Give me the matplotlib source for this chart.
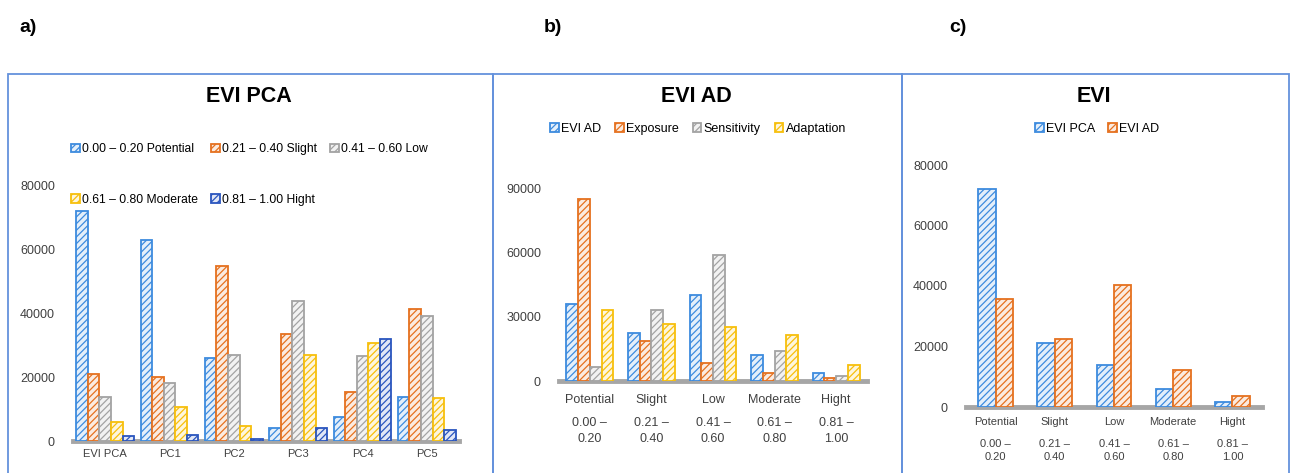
import matplotlib.pyplot as plt
import numpy as np
from matplotlib.patches import Rectangle

plt.rcParams['font.family'] = ['Liberation Sans', 'DejaVu Sans']
plt.rcParams['hatch.linewidth'] = 0.9

# ---------------- data ----------------
pca_groups = ["EVI PCA", "PC1", "PC2", "PC3", "PC4", "PC5"]
pca_series = ["0.00 – 0.20 Potential", "0.21 – 0.40 Slight", "0.41 – 0.60 Low",
              "0.61 – 0.80 Moderate", "0.81 – 1.00 Hight"]
pca_potential = [72000, 63000, 26000, 4100, 7600, 13900]
pca_slight = [21000, 20200, 55000, 33600, 15500, 41400]
pca_low = [13900, 18300, 27000, 44000, 26700, 39300]
pca_moderate = [5900, 10600, 4800, 27000, 30600, 13600]
pca_high = [1700, 1900, 600, 4100, 31900, 3400]

classes = ["Potential", "Slight", "Low", "Moderate", "Hight"]
ranges = ["0.00 –\n0.20", "0.21 –\n0.40", "0.41 –\n0.60", "0.61 –\n0.80", "0.81 –\n1.00"]

ad_series = ["EVI AD", "Exposure", "Sensitivity", "Adaptation"]
ad_evi = [35800, 22600, 40200, 12300, 3600]
ad_exposure = [84900, 18700, 8300, 3900, 1300]
ad_sensitivity = [6700, 32900, 58900, 14200, 2300]
ad_adaptation = [32900, 26600, 25400, 21300, 7500]

evi_series = ["EVI PCA", "EVI AD"]
evi_pca = [72000, 21000, 14000, 6000, 1800]
evi_ad = [35800, 22600, 40200, 12300, 3600]

BLUE = '#3D8BDE'
ORANGE = '#E5711F'
GRAY = '#A3A3A3'
YELLOW = '#F7BF0C'
DARKBLUE = '#2A55BE'

W, H = 1295, 473
fig = plt.figure(figsize=(W / 100, H / 100), dpi=100)


def px_axes(x0, y0, x1, y1):
    return fig.add_axes([x0 / W, 1 - y1 / H, (x1 - x0) / W, (y1 - y0) / H])


def tint(c, f=0.86):
    r, g, b = plt.matplotlib.colors.to_rgb(c)
    return (r + (1 - r) * f, g + (1 - g) * f, b + (1 - b) * f)


def bars(ax, data, colors, frac):
    n = len(data)
    x = np.arange(len(data[0]))
    w = frac / n
    handles = []
    for i, (vals, c) in enumerate(zip(data, colors)):
        h = ax.bar(x - frac / 2 + w * (i + 0.5), vals, w, facecolor=tint(c),
                   edgecolor=c, hatch='/////', linewidth=1.3, zorder=3)
        handles.append(h)
    return handles


def style(ax, ymax, step, names, xl, xsize):
    ax.set_ylim(0, ymax)
    ax.set_xlim(-0.5, xl - 0.5)
    ax.set_yticks(np.arange(0, ymax + 1, step))
    for s in ax.spines.values():
        s.set_visible(False)
    ax.axhline(0, color='#A6A6A6', lw=3.5, zorder=2, clip_on=False)
    ax.tick_params(length=0, colors='#404040')
    ax.tick_params(axis='y', pad=13, labelsize=9)
    ax.tick_params(axis='x', labelsize=xsize)
    ax.set_xticks(range(xl))
    ax.set_xticklabels(names)


# frames
for x0, x1 in [(8, 493), (493, 902), (902, 1289)]:
    fig.patches.append(Rectangle((x0 / W, -0.01), (x1 - x0) / W, 1.01 - 74 / H,
                                 transform=fig.transFigure, fill=False,
                                 edgecolor='#6492DC', lw=1.3))

# ================== a) EVI PCA ==================
ax1 = px_axes(73, 186, 459, 441)
h1 = bars(ax1, [pca_potential, pca_slight, pca_low, pca_moderate, pca_high],
          [BLUE, ORANGE, GRAY, YELLOW, DARKBLUE], 0.9)
style(ax1, 80000, 20000, pca_groups, 6, 8)
ax1.tick_params(axis='x', pad=6)
order = [0, 3, 1, 4, 2]
fig.legend([h1[i] for i in order], [pca_series[i] for i in order], ncol=3,
           loc='upper left', bbox_to_anchor=(65 / W, 1 - 137 / H), frameon=False,
           fontsize=8.7, handlelength=0.7, handleheight=0.7, handletextpad=0.2,
           columnspacing=1.1, labelspacing=3.2, borderpad=0)
fig.text(249 / W, 1 - 97 / H, "EVI PCA", ha='center', va='center',
         fontsize=15.5, fontweight='bold')

# ================== b) EVI AD ==================
ax2 = px_axes(559, 188, 867, 381)
h2 = bars(ax2, [ad_evi, ad_exposure, ad_sensitivity, ad_adaptation],
          [BLUE, ORANGE, GRAY, YELLOW], 0.76)
style(ax2, 90000, 30000, classes, 5, 9)
ax2.tick_params(axis='x', pad=9)
for i, r in enumerate(ranges):
    ax2.annotate(r, (i, 0), xycoords=('data', 'axes fraction'), xytext=(0, -26),
                 textcoords='offset points', ha='center', va='top', fontsize=9,
                 color='#404040', linespacing=1.4)
fig.legend(h2, ad_series, ncol=4, loc='center', bbox_to_anchor=(698 / W, 1 - 129 / H),
           frameon=False, fontsize=9, handlelength=0.7, handleheight=0.7,
           handletextpad=0.2, columnspacing=1.1, borderpad=0)
fig.text(696 / W, 1 - 97 / H, "EVI AD", ha='center', va='center',
         fontsize=15.5, fontweight='bold')

# ================== c) EVI ==================
ax3 = px_axes(966, 165, 1262, 407)
h3 = bars(ax3, [evi_pca, evi_ad], [BLUE, ORANGE], 0.59)
style(ax3, 80000, 20000, classes, 5, 8)
ax3.tick_params(axis='x', pad=7)
for i, r in enumerate(ranges):
    ax3.annotate(r, (i, 0), xycoords=('data', 'axes fraction'), xytext=(0, -23),
                 textcoords='offset points', ha='center', va='top', fontsize=8,
                 color='#404040', linespacing=1.35)
fig.legend(h3, evi_series, ncol=2, loc='center', bbox_to_anchor=(1097 / W, 1 - 129 / H),
           frameon=False, fontsize=9, handlelength=0.7, handleheight=0.7,
           handletextpad=0.2, columnspacing=1.0, borderpad=0)
fig.text(1094 / W, 1 - 97 / H, "EVI", ha='center', va='center',
         fontsize=15.5, fontweight='bold')

# panel letters
for x, s in [(28, "a)"), (553, "b)"), (958, "c)")]:
    fig.text(x / W, 1 - 28 / H, s, ha='center', va='center', fontsize=14,
             fontweight='bold')

fig.savefig("out.png", dpi=100)
